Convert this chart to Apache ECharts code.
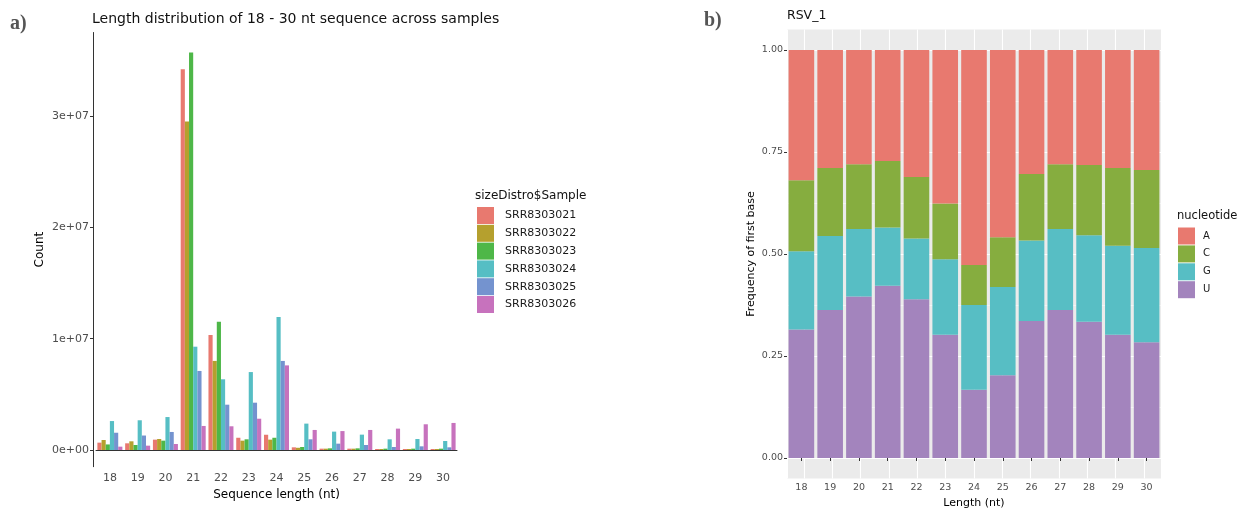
<!DOCTYPE html>
<html>
<head>
<meta charset="utf-8">
<script src="https://cdn.jsdelivr.net/npm/echarts@6/dist/echarts.min.js"></script>
<style>
  html, body { margin: 0; padding: 0; background: #fff; }
  #chart { width: 1243px; height: 508px; }
</style>
</head>
<body>
<div id="chart"></div>
<script>
// lengths on both panels
var lengths = ['18', '19', '20', '21', '22', '23', '24', '25', '26', '27', '28', '29', '30'];

// panel a) counts per sample
var samples = ['SRR8303021', 'SRR8303022', 'SRR8303023', 'SRR8303024', 'SRR8303025', 'SRR8303026'];
var srr21 = [660000, 600000, 930000, 34200000, 10330000, 1100000, 1370000, 240000, 120000, 120000, 90000, 90000, 90000];
var srr22 = [900000, 780000, 990000, 29500000, 8000000, 840000, 930000, 200000, 120000, 120000, 90000, 90000, 90000];
var srr23 = [500000, 450000, 840000, 35700000, 11530000, 960000, 1100000, 270000, 150000, 150000, 120000, 120000, 120000];
var srr24 = [2600000, 2670000, 2960000, 9280000, 6350000, 7000000, 11950000, 2370000, 1650000, 1380000, 960000, 990000, 810000];
var srr25 = [1550000, 1300000, 1620000, 7100000, 4070000, 4250000, 8000000, 960000, 570000, 450000, 270000, 330000, 240000];
var srr26 = [300000, 390000, 540000, 2160000, 2130000, 2810000, 7600000, 1800000, 1700000, 1800000, 1920000, 2310000, 2430000];
var countTicks = [0, 10000000, 20000000, 30000000];
var countTickLabels = ['0e+00', '1e+07', '2e+07', '3e+07'];

// panel b) first base frequency
var nucleotides = ['A', 'C', 'G', 'U'];
var fracA = [0.319, 0.289, 0.280, 0.272, 0.311, 0.376, 0.527, 0.459, 0.304, 0.280, 0.282, 0.289, 0.294];
var fracC = [0.174, 0.167, 0.159, 0.163, 0.151, 0.137, 0.098, 0.122, 0.163, 0.159, 0.172, 0.191, 0.191];
var fracG = [0.192, 0.181, 0.165, 0.143, 0.149, 0.185, 0.208, 0.216, 0.197, 0.198, 0.212, 0.218, 0.231];
var fracU = [0.315, 0.363, 0.396, 0.422, 0.389, 0.302, 0.167, 0.203, 0.336, 0.363, 0.334, 0.302, 0.284];

var sampleColors = ['#E8796F', '#B5A02E', '#4EB748', '#56BEC4', '#7493CF', '#C772BD'];
var nucColors = { A: '#E8796F', C: '#86AD3F', G: '#57BEC4', U: '#A384BD' };

var chart = echarts.init(document.getElementById('chart'));

var sampleData = [srr21, srr22, srr23, srr24, srr25, srr26];
var countSeries = samples.map(function (name, i) {
	return {
		name: name,
		type: 'bar',
		xAxisIndex: 0,
		yAxisIndex: 0,
		barGap: '0%',
		barCategoryGap: '10%',
		itemStyle: { color: sampleColors[i] },
		data: sampleData[i]
	};
});

var fracByNuc = { A: fracA, C: fracC, G: fracG, U: fracU };
// stack bottom to top: U, G, C, A
var nucSeries = ['U', 'G', 'C', 'A'].map(function (n) {
	return {
		name: n,
		type: 'bar',
		stack: 'nuc',
		xAxisIndex: 2,
		yAxisIndex: 2,
		barCategoryGap: '11%',
		itemStyle: { color: nucColors[n] },
		data: fracByNuc[n]
	};
});

var option = {
	animation: false,
	backgroundColor: '#FFFFFF',
	textStyle: { fontFamily: 'DejaVu Sans' },
	title: [
		{ text: 'Length distribution of 18 - 30 nt sequence across samples', left: 92, top: 12, padding: 0,
			textStyle: { fontSize: 14, fontWeight: 'normal', color: '#111' } },
		{ text: 'RSV_1', left: 787, top: 9, padding: 0,
			textStyle: { fontSize: 12.5, fontWeight: 'normal', color: '#111' } },
		{ text: 'sizeDistro$Sample', left: 475, top: 190, padding: 0,
			textStyle: { fontSize: 12, fontWeight: 'normal', color: '#111' } },
		{ text: 'nucleotide', left: 1177, top: 210, padding: 0,
			textStyle: { fontSize: 11.5, fontWeight: 'normal', color: '#111' } },
		{ text: 'a)', left: 10, top: 14, padding: 0,
			textStyle: { fontSize: 20, fontWeight: 'bold', fontFamily: 'Liberation Serif', color: '#555' } },
		{ text: 'b)', left: 704, top: 11, padding: 0,
			textStyle: { fontSize: 20, fontWeight: 'bold', fontFamily: 'Liberation Serif', color: '#555' } }
	],
	legend: [{
		data: samples,
		orient: 'vertical',
		left: 477,
		top: 207,
		padding: 0,
		itemWidth: 17,
		itemHeight: 17,
		itemGap: 0.8,
		icon: 'rect',
		selectedMode: false,
		textStyle: { fontSize: 11, color: '#1a1a1a', padding: [0, 0, 0, 6] }
	}, {
		data: nucleotides,
		orient: 'vertical',
		left: 1178,
		top: 227.5,
		padding: 0,
		itemWidth: 17,
		itemHeight: 17,
		itemGap: 0.9,
		icon: 'rect',
		selectedMode: false,
		textStyle: { fontSize: 10, color: '#1a1a1a', padding: [0, 0, 0, 3] }
	}],
	grid: [
		{ left: 96, top: 32.5, width: 361, height: 434.2, outerBoundsMode: 'none', containLabel: false },
		{ left: 787, top: 29.6, width: 374, height: 448.8, show: true, backgroundColor: '#EBEBEB', borderWidth: 0,
			outerBoundsMode: 'none', containLabel: false },
		{ left: 787, top: 50, width: 374, height: 408, outerBoundsMode: 'none', containLabel: false }
	],
	xAxis: [{
		gridIndex: 0,
		type: 'category',
		data: lengths,
		axisLine: { lineStyle: { color: '#333', width: 1 } },
		axisTick: { alignWithLabel: true, length: 3, lineStyle: { color: '#333' } },
		axisLabel: { fontSize: 11, color: '#4D4D4D', margin: 6 },
		name: 'Sequence length (nt)',
		nameLocation: 'middle',
		nameGap: 21,
		nameTextStyle: { fontSize: 12, color: '#000' }
	}, {
		gridIndex: 1,
		type: 'value',
		min: 17.4,
		max: 30.6,
		splitNumber: 13,
		axisLine: { show: false },
		axisTick: { show: false },
		axisLabel: { show: false },
		splitLine: { show: true, lineStyle: { color: '#FFFFFF', width: 1.1 } }
	}, {
		gridIndex: 2,
		type: 'category',
		data: lengths,
		offset: 20.4,
		axisLine: { show: false },
		axisTick: { show: true, alignWithLabel: true, length: 3, lineStyle: { color: '#333' } },
		axisLabel: { fontSize: 9.5, color: '#4D4D4D', margin: 4 },
		name: 'Length (nt)',
		nameLocation: 'middle',
		nameGap: 14,
		nameTextStyle: { fontSize: 11, color: '#000' }
	}],
	yAxis: [{
		gridIndex: 0,
		type: 'value',
		min: -1500000,
		max: 37500000,
		offset: 3,
		axisLine: { show: true, lineStyle: { color: '#333', width: 1 } },
		axisTick: { show: true, length: 3, customValues: countTicks, lineStyle: { color: '#333' } },
		axisLabel: {
			fontSize: 11, color: '#4D4D4D', margin: 4,
			customValues: countTicks,
			formatter: function (v) {
				var i = countTicks.indexOf(v);
				return i >= 0 ? countTickLabels[i] : '';
			}
		},
		splitLine: { show: false },
		name: 'Count',
		nameLocation: 'middle',
		nameGap: 47,
		nameTextStyle: { fontSize: 12, color: '#000' }
	}, {
		gridIndex: 1,
		type: 'value',
		min: 0,
		max: 1,
		show: false
	}, {
		gridIndex: 2,
		type: 'value',
		min: 0,
		max: 1,
		interval: 0.25,
		axisLine: { show: false },
		axisTick: { show: true, length: 3, lineStyle: { color: '#333' } },
		axisLabel: {
			fontSize: 9.5, color: '#4D4D4D', margin: 4,
			formatter: function (v) { return v.toFixed(2); }
		},
		splitLine: { show: true, lineStyle: { color: '#FFFFFF', width: 1.1 } },
		minorTick: { show: false, splitNumber: 2 },
		minorSplitLine: { show: true, lineStyle: { color: '#FFFFFF', width: 0.5 } },
		name: 'Frequency of first base',
		nameLocation: 'middle',
		nameGap: 30,
		nameTextStyle: { fontSize: 11, color: '#000' }
	}],
	series: countSeries.concat(nucSeries)
};

chart.setOption(option);
</script>
</body>
</html>
